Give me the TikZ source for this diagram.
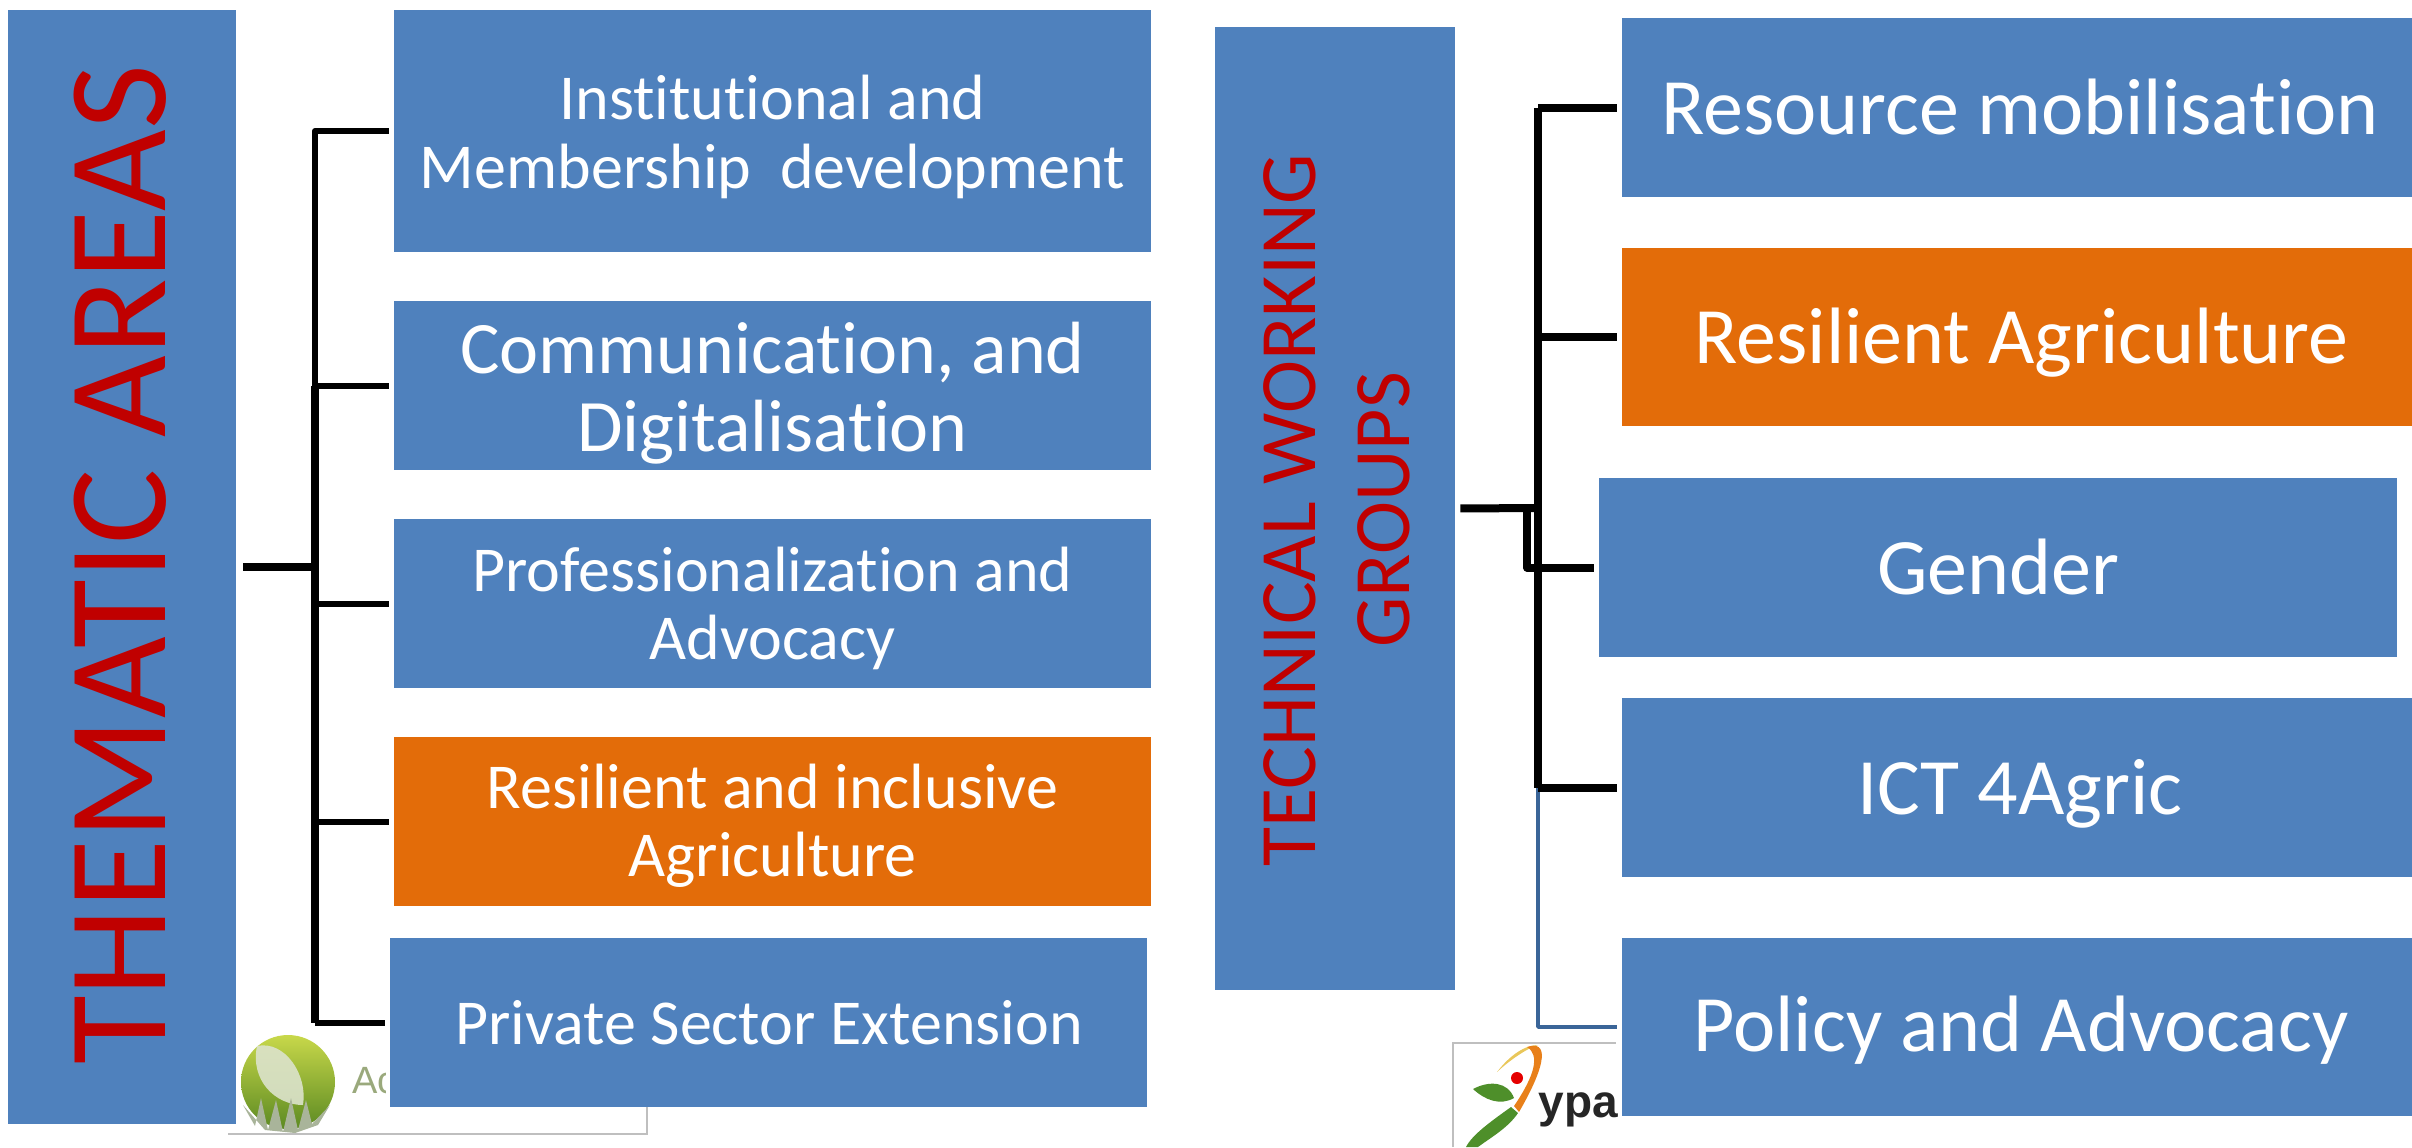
\documentclass[tikz,border=0pt]{standalone}
\usepackage{fontspec}
\setmainfont{Carlito}[Ligatures=NoCommon]
\newfontfamily\logofont{Liberation Sans}
\definecolor{boxblue}{HTML}{4F81BD}
\definecolor{boxorange}{HTML}{E36C09}
\definecolor{titlered}{HTML}{C00000}
\definecolor{lineblue}{HTML}{3A6598}
\definecolor{framegray}{HTML}{BFBFBF}
\definecolor{ballTop}{HTML}{C8D84A}
\definecolor{ballMid}{HTML}{8DB52C}
\definecolor{ballLow}{HTML}{5C8A22}
\definecolor{leafPale}{HTML}{DCE3CC}
\definecolor{grassGray}{HTML}{A9B49A}
\definecolor{acGreen}{HTML}{9AA97C}
\definecolor{ypaOrange}{HTML}{E8801A}
\definecolor{ypaYellow}{HTML}{E9C75A}
\definecolor{ypaGreen}{HTML}{4E8F2A}
\tikzset{
  boxnode/.style={inner sep=0pt,align=center,text=white},
  heavyline/.style={line width=4pt,black,line join=round},
  lightline/.style={line width=3pt,black,line join=round},
  blueline/.style={line width=1.8pt,lineblue,line join=round},
  toBox/.style={shorten >=2.5pt},
}
% text offset in pt for the next box
\newcommand\tshift[2]{\def\tdx{#1}\def\tdy{#2}}
% name, x0, y0, x1, y1, colour, size, line spacing, text
\newcommand\bx[9]{%
  \pgfmathsetmacro\bxw{(#4-#2)*0.5}%
  \pgfmathsetmacro\bxh{(#5-#3)*0.5}%
  \node[inner sep=0pt,fill=#6,minimum width=\bxw pt,minimum height=\bxh pt] (#1) at ({(#2+#4)/2},{(#3+#5)/2}) {};
  \node[boxnode,font=\fontsize{#7}{#8}\selectfont,xshift=\tdx pt,yshift=\tdy pt] (#1text) at (#1.center) {#9};
}
\tshift{0}{0}
\begin{document}
\begin{tikzpicture}[x=0.5pt,y=-0.5pt]
\useasboundingbox (0,0) rectangle (2412,1147);
% left logo
\draw[framegray,line width=0.8pt] (228,1134) -- (647,1134) -- (647,1100);
\begin{scope}
  \clip (340,1050) rectangle (385,1110);
  \node[anchor=base west,inner sep=0pt,text=acGreen,font=\logofont\fontsize{19}{22}\selectfont] (acword) at (352,1093) {Ac};
\end{scope}
\shade[top color=ballTop,middle color=ballMid,bottom color=ballLow] (288,1082) circle [radius=47];
\fill[leafPale,opacity=0.9] (257,1046) .. controls (285,1040) and (308,1075) .. (303,1105) .. controls (275,1105) and (250,1080) .. (257,1046) -- cycle;
\fill[grassGray] (243,1105) -- (255,1126) -- (261,1098) -- (268,1130) -- (276,1100) -- (283,1132) -- (291,1098) -- (298,1130) -- (306,1100) -- (312,1124) -- (330,1105) -- (318,1125) -- (295,1133) -- (265,1130) -- cycle;
% right logo
\draw[framegray,line width=0.8pt] (1453,1147) -- (1453,1043) -- (1616,1043);
\fill[ypaYellow] (1497,1072) .. controls (1510,1055) and (1525,1045) .. (1538,1045) .. controls (1530,1047) and (1512,1058) .. (1497,1072) -- cycle;
\fill[ypaOrange] (1527,1047) .. controls (1548,1040) and (1548,1062) .. (1519,1112) -- (1514,1106) .. controls (1535,1075) and (1540,1055) .. (1527,1047) -- cycle;
\fill[ypaGreen] (1518,1113) -- (1511,1107) .. controls (1490,1122) and (1472,1135) .. (1466,1147) -- (1478,1147) .. controls (1490,1138) and (1508,1128) .. (1518,1113) -- cycle;
\fill[ypaGreen] (1473,1089) .. controls (1490,1080) and (1508,1082) .. (1514,1098) .. controls (1500,1106) and (1485,1100) .. (1473,1089) -- cycle;
\fill[red!90!black] (1517,1078) circle [radius=6];
\node[anchor=base west,inner sep=0pt,text=black!85,font=\logofont\bfseries\fontsize{23}{28}\selectfont] (ypaword) at (1538,1117) {ypa};
% left column
\bx{areas}{8}{10}{236}{1124}{boxblue}{65}{78}{}
\node[rotate=90,text=titlered,inner sep=0pt,font=\fontsize{70.5}{80}\selectfont] (areastitle) at (120,565) {THEMATIC AREAS};
\tshift{0}{-3}
\bx{a1}{394}{10}{1151}{252}{boxblue}{32}{34.6}{Institutional and\\Membership\ \ development}
\tshift{0}{-3.8}
\bx{a2}{394}{301}{1151}{470}{boxblue}{37}{39}{Communication, and\\Digitalisation}
\tshift{0}{-2.3}
\bx{a3}{394}{519}{1151}{688}{boxblue}{32}{34}{Professionalization and\\Advocacy}
\bx{a4}{394}{737}{1151}{906}{boxorange}{32}{34}{Resilient and inclusive\\Agriculture}
\tshift{0.3}{0}
\bx{a5}{390}{938}{1147}{1107}{boxblue}{32}{34}{Private Sector Extension}
% right column
\tshift{0}{0}
\bx{groups}{1215}{27}{1455}{990}{boxblue}{35}{42}{}
\node[rotate=90,text=titlered,inner sep=0pt,align=center,font=\fontsize{40}{47}\selectfont] (groupstitle) at (1337,510) {TECHNICAL WORKING\\GROUPS};
\tshift{1.6}{0}
\bx{g1}{1622}{18}{2412}{197}{boxblue}{40}{48}{Resource mobilisation}
\tshift{2.3}{-3}
\bx{g2}{1622}{248}{2412}{426}{boxorange}{40}{48}{Resilient Agriculture}
\tshift{0}{0.5}
\bx{g3}{1599}{478}{2397}{657}{boxblue}{40}{48}{Gender}
\tshift{1.6}{-3}
\bx{g4}{1622}{698}{2412}{877}{boxblue}{40}{48}{ICT 4Agric}
\tshift{2}{-1.5}
\bx{g5}{1622}{938}{2412}{1116}{boxblue}{40}{48}{Policy and Advocacy}
% connectors left
\coordinate (lj) at (315,567);
\draw[heavyline,shorten <=3.5pt] (areas.east) -- (lj);
\draw[lightline,toBox] (lj |- a2.west) -- (lj |- a1.west) -- (a1.west);
\draw[lightline,toBox] (lj |- a2.west) -- (a2.west);
\draw[heavyline] (lj |- a2.west) -- (lj |- a5.west);
\draw[lightline,toBox] (lj |- a3.west) -- (a3.west);
\draw[lightline,toBox] (lj |- a4.west) -- (a4.west);
\draw[lightline,toBox] (lj |- a5.west) -- (a5.west);
% connectors right
\coordinate (rj) at (1538,508);
\coordinate (rk) at (1527,508);
\draw[blueline,toBox] (rj |- g4.west) -- (rj |- g5.west) -- (g5.west);
\draw[heavyline,shorten <=2.5pt] (groups.east) -- (rj);
\draw[heavyline] (rj |- g1.west) -- (rj |- g4.west);
\draw[heavyline,toBox] (rj |- g1.west) -- (g1.west);
\draw[heavyline,toBox] (rj |- g2.west) -- (g2.west);
\draw[heavyline,toBox] (rk) -- (rk |- g3.west) -- (g3.west);
\draw[heavyline,toBox] (rj |- g4.west) -- (g4.west);
\end{tikzpicture}
\end{document}
